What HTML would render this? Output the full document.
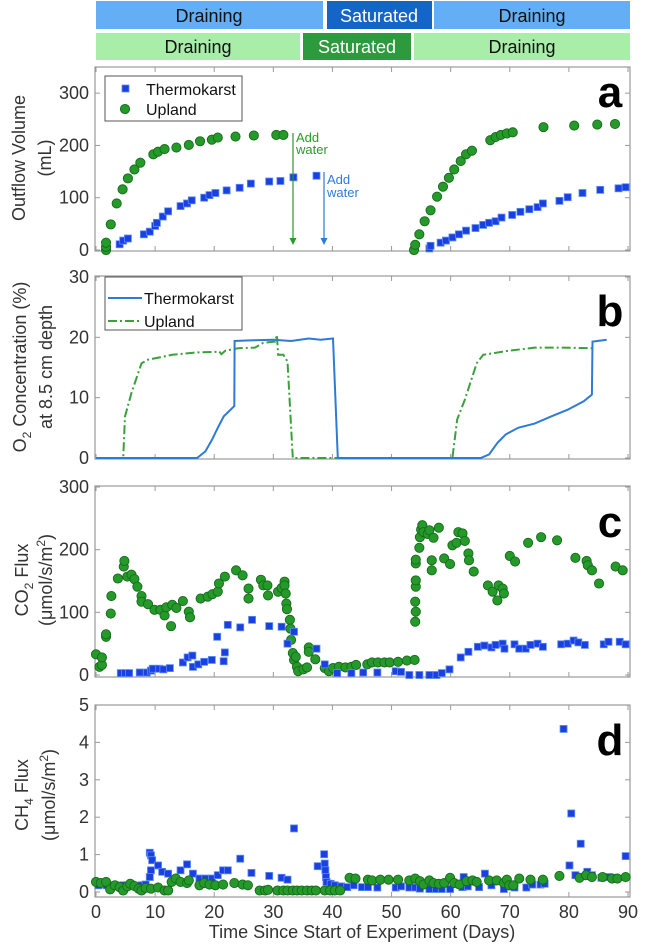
<!DOCTYPE html>
<html><head><meta charset="utf-8"><style>
html,body{margin:0;padding:0;background:#fff;}
svg{display:block;font-family:"Liberation Sans",sans-serif;}
</style></head><body>
<svg id="chart" width="645" height="948" viewBox="0 0 645 948" xmlns="http://www.w3.org/2000/svg">
<g>
<rect x="96" y="1" width="227" height="28" fill="#64aef5"/>
<text x="209" y="22" font-size="18" text-anchor="middle" fill="#111">Draining</text>
<rect x="327" y="1" width="105" height="28" fill="#1565c8"/>
<text x="379" y="22" font-size="18" text-anchor="middle" fill="#fff">Saturated</text>
<rect x="434" y="1" width="196" height="28" fill="#64aef5"/>
<text x="532" y="22" font-size="18" text-anchor="middle" fill="#111">Draining</text>
<rect x="96" y="33" width="204" height="27" fill="#a8eea8"/>
<text x="198" y="53" font-size="18" text-anchor="middle" fill="#111">Draining</text>
<rect x="303" y="33" width="108" height="27" fill="#2e9a3e"/>
<text x="357" y="53" font-size="18" text-anchor="middle" fill="#fff">Saturated</text>
<rect x="414" y="33" width="216" height="27" fill="#a8eea8"/>
<text x="522" y="53" font-size="18" text-anchor="middle" fill="#111">Draining</text>
</g>
</svg>
<script>
// ---- data ----
const xTickLabels=[0,10,20,30,40,50,60,70,80,90];
const aTicks=[0,100,200,300];
const bTicks=[0,10,20,30];
const cTicks=[0,100,200,300];
const dTicks=[0,1,2,3,4,5];
const aUplandDays=[1.7,1.7,1.7,2.5,3.5,4.5,5.4,6.5,7.5,9.7,10.5,11.6,13.6,15.7,17.6,19.6,20.6,23.6,26.7,30.5,31.7,53.8,54.0,54.7,55.6,56.6,57.7,58.7,59.7,60.6,61.7,62.6,63.6,66.7,67.6,68.5,69.5,70.5,75.7,80.9,84.8,87.8];
const aUplandVals=[0,6,14,49,89,116,137,154,167,183,188,193,196,201,208,211,215,217,219,220,220,0,10,30,55,76,102,121,138,154,170,183,190,210,216,220,223,225,235,238,240,241];
const aThermoDays=[4.0,4.6,5.4,8.1,9.1,10.0,10.3,11.3,12.2,14.3,15.4,16.2,18.3,19.2,20.2,22.1,24.3,26.2,29.3,31.2,33.4,37.3,56.4,56.6,58.3,59.2,60.3,61.4,62.6,64.2,65.5,66.5,67.6,68.6,70.4,71.8,73.3,74.7,75.6,78.4,79.8,82.3,85.3,88.4,89.6];
const aThermoVals=[11,18,22,30,35,46,52,64,74,84,89,95,100,105,109,114,119,127,131,132,139,142,3,8,14,18,24,30,37,42,48,52,55,62,67,73,78,82,89,94,101,109,115,118,120];
const bThermoDays=[0,17.1,18.5,19.6,20.6,21.6,23.4,23.45,26,30,33,36,38,40.1,40.9,65.1,66.5,67.9,69.3,71.4,74.2,77.0,79.8,82.5,83.9,84.0,86.4];
const bThermoVals=[0,0,1.1,3,5,6.9,8.6,19.4,19.5,19.6,19.4,19.8,19.6,19.8,0,0,0.6,2.5,3.9,5,5.7,6.9,8,9.4,10.5,19.3,19.6];
const bUplandDays=[0,4.6,4.9,6.0,7.7,8.8,12.9,17.1,20.9,21.2,21.9,24.1,26.9,28.3,30.3,30.6,30.8,31.7,32.4,33.3,60.3,61.1,62.4,64.4,65.5,69.3,74.2,78.4,83.9];
const bUplandVals=[0,0,6.9,10.8,15.7,16.3,17.1,17.5,17.6,17.2,17.8,18.2,18.3,19.1,19.3,20.4,17.1,17.1,16,0,0,6.4,9.7,15.7,17.1,17.7,18.3,18.3,18.2];
const cUplandDays=[0,0.6,1.0,1.0,1.7,1.7,2.5,2.6,3.7,4.7,4.8,5.3,6.0,6.5,7.0,7.7,7.7,8.8,9.9,10.9,11.6,11.9,12.7,12.9,13.6,14.7,15.7,15.9,17.7,18.9,19.7,20.6,20.8,21.8,23.7,24.8,25.8,25.8,27.9,28.3,29.0,29.1,30.8,31.4,31.9,31.9,32.1,32.2,32.3,32.8,32.9,33.0,33.3,33.5,33.8,34.0,34.2,35.1,35.7,36.0,36.0,37.1,38.7,39.4,40.1,41.1,42.2,43.2,44.0,45.9,46.7,47.7,48.8,49.7,51.1,52.6,53.9,54.0,54.1,54.0,54.1,54.1,54.1,54.1,54.7,54.8,55.0,55.2,55.4,56.1,56.4,57.1,56.8,56.8,58.0,58.9,59.9,60.3,61.0,61.3,62.0,62.4,63.0,63.1,63.9,66.3,67.1,67.9,68.1,68.8,69.0,70.0,70.9,73.1,75.3,78.0,81.1,83.0,83.2,83.9,85.1,87.9,89.1];
const cUplandVals=[33,13,16,28,61,65,98,126,154,173,182,157,160,153,141,126,117,113,104,104,95,108,78,112,107,118,101,92,122,125,129,133,146,157,167,159,138,122,152,143,143,127,133,139,149,143,130,114,105,88,74,56,35,24,29,13,6,9,12,44,37,25,11,6,11,13,12,13,16,17,20,20,20,20,21,23,24,85,101,117,141,151,178,184,203,220,232,239,228,225,231,219,183,167,235,186,177,207,211,228,226,214,194,183,165,143,133,119,143,138,130,190,181,211,220,215,187,182,175,167,146,173,167];
const cThermoDays=[4.2,4.9,5.6,7.4,8.6,9.3,9.6,10.7,11.4,12.5,14.7,15.5,16.3,16.4,17.3,18.3,19.6,20.5,21.6,21.8,22.3,24.4,26.4,29.3,31.4,32.4,33.5,37.3,38.7,40.8,43.2,45.2,47.6,50.7,51.6,53.0,54.7,56.4,57.6,58.5,59.8,61.7,63.0,64.6,65.7,66.9,67.6,68.8,69.1,70.8,71.6,72.7,73.5,74.7,75.6,78.7,79.8,80.8,81.6,82.7,85.9,86.7,88.6,89.6];
const cThermoVals=[3,3,3,4,4,7,10,10,9,11,20,28,31,13,17,21,24,61,22,36,80,76,88,78,77,50,69,42,17,3,3,4,4,6,5,0,0,0,0,3,9,28,37,45,47,44,48,50,42,49,42,42,48,50,45,49,50,55,52,48,49,53,53,49];
const dThermoDays=[0.4,1.8,3.2,4.6,6.0,7.7,8.4,9.1,9.3,9.5,9.3,9.1,10.5,11.2,12.2,14.3,15.4,16.4,17.5,18.5,19.6,20.6,21.5,22.3,24.4,26.3,29.3,31.4,32.4,33.5,37.5,38.6,38.7,38.8,38.9,39.0,39.7,40.4,41.5,42.5,43.6,45.0,46.0,47.6,50.7,51.6,53.0,54.0,54.8,56.4,57.5,58.5,59.9,62.0,62.2,62.9,64.8,65.8,66.9,69.0,70.8,72.8,73.8,75.2,75.9,79.1,80.1,80.4,81.1,82.0,83.1,83.9,85.5,86.7,87.8,89.6];
const dThermoVals=[0.18,0.18,0.18,0.18,0.2,0.18,0.2,1.05,0.98,0.85,0.58,0.4,0.71,0.54,0.49,0.58,0.74,0.49,0.36,0.36,0.36,0.45,0.58,0.58,0.89,0.51,0.43,0.38,0.33,1.70,0.69,1.01,0.76,0.58,0.4,0.27,0.22,0.18,0.15,0.13,0.18,0.13,0.13,0.12,0.12,0.15,0.12,0.12,0.09,0.08,0.08,0.08,0.08,0.13,0.4,0.15,0.13,0.49,0.18,0.08,0.12,0.12,0.2,0.2,0.22,4.36,0.71,2.1,0.45,1.29,0.54,0.45,0.38,0.4,0.38,0.96];
const dUplandDays=[0,0.8,1.7,2.4,3.2,4.0,4.6,5.3,5.8,6.5,7.2,7.7,8.4,9.3,10.5,11.6,12.2,12.8,13.5,14.3,15.4,15.7,17.5,18.3,19.2,20.2,21.5,23.4,24.8,25.7,27.7,28.6,29.1,30.7,31.7,32.4,33.3,34.0,34.8,35.7,36.5,37.2,38.7,39.6,40.4,41.3,42.9,43.9,46.0,46.7,48.1,49.5,51.1,53.0,54.0,54.8,55.4,56.4,57.1,58.0,58.9,59.9,60.6,61.5,62.7,63.7,64.4,66.5,67.8,69.0,69.5,69.9,70.6,71.6,73.5,75.6,78.4,81.8,82.9,83.9,85.7,87.3,88.2,89.6];
const dUplandVals=[0.27,0.24,0.27,0.07,0.18,0.13,0.04,0.15,0.22,0.16,0.09,0.04,0.11,0.09,0.12,0.04,0.04,0.27,0.36,0.27,0.24,0.31,0.18,0.24,0.2,0.18,0.2,0.24,0.2,0.18,0.04,0.04,0.06,0.04,0.04,0.04,0.04,0.04,0.04,0.04,0.04,0.04,0.04,0.04,0.04,0.04,0.38,0.36,0.33,0.31,0.33,0.33,0.33,0.31,0.36,0.29,0.2,0.31,0.24,0.22,0.24,0.38,0.24,0.2,0.29,0.31,0.27,0.31,0.31,0.24,0.33,0.18,0.18,0.36,0.33,0.33,0.43,0.38,0.45,0.4,0.4,0.36,0.36,0.4];

// ---- layout ----
const NS="http://www.w3.org/2000/svg";
const svg=document.getElementById('chart');
const X0=96,X1=628,BOXL=95,BOXR=630;
function xs(d){return X0+d*(X1-X0)/90;}
const panels={
 a:{top:67,bot:251,y0:250,yv:350,yTop:67,ticks:aTicks},
 b:{top:276,bot:459,y0:458,yv:30,yTop:277,ticks:bTicks},
 c:{top:486,bot:677,y0:675,yv:300,yTop:487,ticks:cTicks},
 d:{top:705,bot:897,y0:892,yv:5,yTop:705,ticks:dTicks}
};
function ys(p,v){return p.y0-v*(p.y0-p.yTop)/p.yv;}
function el(tag,attrs,parent){const e=document.createElementNS(NS,tag);for(const k in attrs)e.setAttribute(k,attrs[k]);(parent||svg).appendChild(e);return e;}

function drawAxes(key){
 const p=panels[key];
 const g=el('g',{});
 
 
 const r=el('rect',{x:BOXL,y:p.top,width:BOXR-BOXL,height:p.bot-p.top,fill:'none',stroke:'#9a9a9a','stroke-width':1.2},g);
 
 
 xTickLabels.forEach(d=>{
  const x=xs(d);
  el('line',{x1:x,x2:x,y1:p.bot,y2:p.bot-5,stroke:'#9a9a9a'},g);
  el('line',{x1:x,x2:x,y1:p.top,y2:p.top+5,stroke:'#9a9a9a'},g);
 });
 p.ticks.forEach(v=>{
  const y=ys(p,v);
  el('line',{x1:BOXL,x2:BOXL+5,y1:y,y2:y,stroke:'#9a9a9a'},g);
  el('line',{x1:BOXR,x2:BOXR-5,y1:y,y2:y,stroke:'#9a9a9a'},g);
  const t=el('text',{x:89,y:y+6,'font-size':18,'text-anchor':'end',fill:'#333'},g);
  
  
  t.textContent=v;
 });
}
function squares(key,days,vals,name){
 const p=panels[key];
 const g=el('g',{});
 
 
 days.forEach((d,i)=>{
  const s=el('rect',{x:xs(d)-3.5,y:ys(p,vals[i])-3.5,width:7,height:7,fill:'#1c3fe0',stroke:'#5a8ef5','stroke-width':0.8},g);
  
  
 });
}
function circles(key,days,vals,name){
 const p=panels[key];
 const g=el('g',{});
 
 
 days.forEach((d,i)=>{
  const c=el('circle',{cx:xs(d),cy:ys(p,vals[i]),r:4.6,fill:'#259a2a',stroke:'#166b1a','stroke-width':0.9},g);
  
  
 });
}
function line(key,days,vals,name,color,dash){
 const p=panels[key];
 const pts=days.map((d,i)=>xs(d).toFixed(1)+','+ys(p,vals[i]).toFixed(1)).join(' ');
 const l=el('polyline',{points:pts,fill:'none',stroke:color,'stroke-width':2,'stroke-dasharray':dash||'none'});
 
 
}
['a','b','c','d'].forEach(drawAxes);

// panel a
circles('a',aUplandDays,aUplandVals,'panel-a-upland-series');
squares('a',aThermoDays,aThermoVals,'panel-a-thermokarst-series');
// panel b
line('b',bUplandDays,bUplandVals,'panel-b-upland-line','#3aa03a','9,3,2,3');
line('b',bThermoDays,bThermoVals,'panel-b-thermokarst-line','#2e7bd6');
// panel c
circles('c',cUplandDays,cUplandVals,'panel-c-upland-series');
squares('c',cThermoDays,cThermoVals,'panel-c-thermokarst-series');
// panel d
squares('d',dThermoDays,dThermoVals,'panel-d-thermokarst-series');
circles('d',dUplandDays,dUplandVals,'panel-d-upland-series');

// x tick labels
xTickLabels.forEach(d=>{
 const t=el('text',{x:xs(d),y:918,'font-size':18,'text-anchor':'middle',fill:'#333'});
 
 
 t.textContent=d;
});
</script>
<svg width="0" height="0"></svg>
<script>
(function(){
const NS="http://www.w3.org/2000/svg";
const svg=document.getElementById('chart');
function add(html){const g=document.createElementNS(NS,'g');g.innerHTML=html;svg.appendChild(g);return g;}
add(`
<text x="362" y="938" font-size="18" text-anchor="middle" fill="#333">Time Since Start of Experiment (Days)</text>
<g font-size="18" fill="#333" text-anchor="middle">
<text transform="translate(25,158) rotate(-90)">Outflow Volume</text>
<text transform="translate(51,158) rotate(-90)">(mL)</text></g>
<g font-size="18" fill="#333" text-anchor="middle">
<text transform="translate(26,367) rotate(-90)">O<tspan font-size="12" dy="5">2</tspan><tspan dy="-5"> Concentration (%)</tspan></text>
<text transform="translate(52,367) rotate(-90)">at 8.5 cm depth</text></g>
<g font-size="18" fill="#333" text-anchor="middle">
<text transform="translate(28,580) rotate(-90)">CO<tspan font-size="12" dy="5">2</tspan><tspan dy="-5"> Flux</tspan></text>
<text transform="translate(52,580) rotate(-90)">(μmol/s/m<tspan font-size="12" dy="-7">2</tspan><tspan dy="7">)</tspan></text></g>
<g font-size="18" fill="#333" text-anchor="middle">
<text transform="translate(28,795) rotate(-90)">CH<tspan font-size="12" dy="5">4</tspan><tspan dy="-5"> Flux</tspan></text>
<text transform="translate(55,795) rotate(-90)">(μmol/s/m<tspan font-size="12" dy="-7">2</tspan><tspan dy="7">)</tspan></text></g>
<text x="610" y="107" font-size="44" font-weight="bold" text-anchor="middle">a</text>
<text x="610" y="326" font-size="44" font-weight="bold" text-anchor="middle">b</text>
<text x="610" y="537" font-size="44" font-weight="bold" text-anchor="middle">c</text>
<text x="610" y="755" font-size="44" font-weight="bold" text-anchor="middle">d</text>
<g>
<rect x="105" y="76" width="137" height="45" fill="#fff" stroke="#555" stroke-width="1"/>
<rect x="122" y="85" width="7" height="7" fill="#1c3fe0" stroke="#5a8ef5" stroke-width="0.8"/>
<text x="146" y="95" font-size="16" fill="#111">Thermokarst</text>
<circle cx="125" cy="109" r="4.6" fill="#259a2a" stroke="#166b1a" stroke-width="0.9"/>
<text x="146" y="115" font-size="16" fill="#111">Upland</text></g>
<g>
<rect x="105" y="277" width="137" height="53" fill="#fff" stroke="#555" stroke-width="1"/>
<line x1="108" x2="142" y1="298" y2="298" stroke="#2e7bd6" stroke-width="2"/>
<text x="144" y="304" font-size="16" fill="#111">Thermokarst</text>
<line x1="108" x2="142" y1="321" y2="321" stroke="#3aa03a" stroke-width="2" stroke-dasharray="9,3,2,3"/>
<text x="144" y="327" font-size="16" fill="#111">Upland</text></g>
<g>
<line x1="293" x2="293" y1="133" y2="240" stroke="#2a9a2a" stroke-width="1.2"/>
<path d="M289.5,238 L293,245 L296.5,238 Z" fill="#2a9a2a"/>
<text x="296" y="142" font-size="13" fill="#2a9a2a">Add</text>
<text x="296" y="154" font-size="13" fill="#2a9a2a">water</text></g>
<g>
<line x1="324" x2="324" y1="172" y2="240" stroke="#2e7bd6" stroke-width="1.2"/>
<path d="M320.5,238 L324,245 L327.5,238 Z" fill="#2e7bd6"/>
<text x="327" y="184" font-size="13" fill="#2e7bd6">Add</text>
<text x="327" y="197" font-size="13" fill="#2e7bd6">water</text></g>
`);
})();
</script>
</body></html>
